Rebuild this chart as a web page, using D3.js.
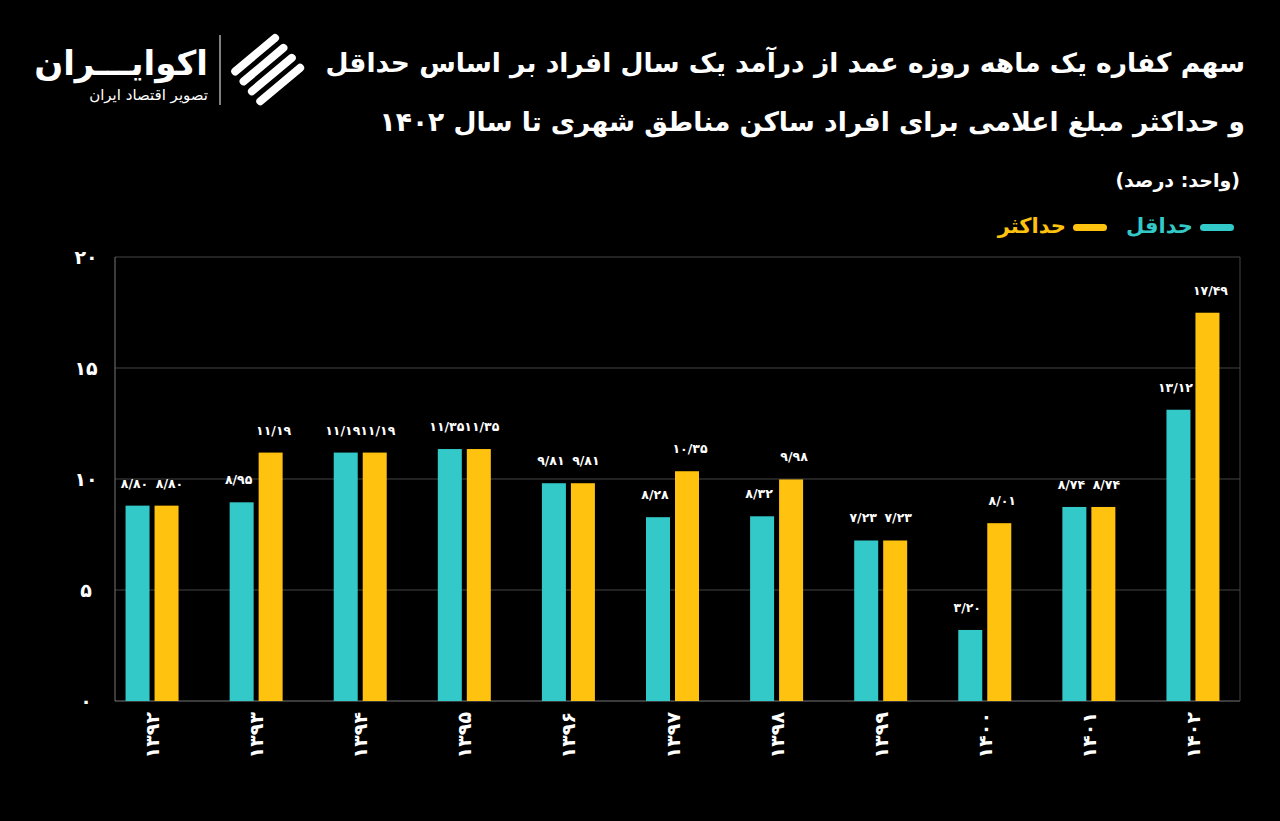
<!DOCTYPE html>
<html><head><meta charset="utf-8">
<script src="https://cdn.jsdelivr.net/npm/d3@7"></script>
<style>body{margin:0;background:#000;}svg{display:block;font-family:"DejaVu Sans","Noto Sans",sans-serif;}</style>
</head><body>
<svg id="c" width="1280" height="821"></svg>
<script>
const categories=["۱۳۹۲","۱۳۹۳","۱۳۹۴","۱۳۹۵","۱۳۹۶","۱۳۹۷","۱۳۹۸","۱۳۹۹","۱۴۰۰","۱۴۰۱","۱۴۰۲"];
const minValues=[8.80,8.95,11.19,11.35,9.81,8.28,8.32,7.23,3.20,8.74,13.12];
const maxValues=[8.80,11.19,11.19,11.35,9.81,10.35,9.98,7.23,8.01,8.74,17.49];
const yTicks=[0,5,10,15,20];
const seriesNames=["حداقل","حداکثر"];
const colors=["#33c9c9","#ffc20e"];

const fa=s=>String(s).replace(/\d/g,d=>"۰۱۲۳۴۵۶۷۸۹"[d]);
const fmt=v=>fa(v.toFixed(2).replace(".","/"));
const svg=d3.select("#c");
const x=d3.scaleBand().domain(categories).range([100,1245]);
const y=d3.scaleLinear().domain([0,20]).range([701,257]);
const L=115,R=1240;
svg.selectAll(".g").data(yTicks).join("line").attr("x1",L).attr("x2",R)
 .attr("y1",d=>y(d)).attr("y2",d=>y(d)).attr("stroke",d=>d===0?"#777":"#444").attr("stroke-width",1);
svg.append("line").attr("x1",L).attr("x2",L).attr("y1",y(20)).attr("y2",y(0)).attr("stroke","#777");
svg.append("line").attr("x1",R).attr("x2",R).attr("y1",y(20)).attr("y2",y(0)).attr("stroke","#444");
svg.selectAll(".yt").data(yTicks).join("text").attr("x",86).attr("y",d=>y(d)+7).attr("text-anchor","middle")
 .attr("fill","#fff").attr("font-size",19).attr("font-weight","bold").text(d=>fa(d));
const bw=24;
[minValues,maxValues].forEach((vals,i)=>{
 const off=i===0?-bw-2.5:2.5;
 const g=svg.append("g");
 g.selectAll("rect").data(vals).join("rect")
  .attr("x",(d,j)=>x(categories[j])+x.bandwidth()/2+off).attr("width",bw)
  .attr("y",d=>y(d)).attr("height",d=>y(0)-y(d)).attr("fill",colors[i]);
 g.selectAll("text").data(vals).join("text")
  .attr("x",(d,j)=>x(categories[j])+x.bandwidth()/2+off+bw/2+(i===0?-3:3)).attr("y",d=>y(d)-18)
  .attr("text-anchor","middle").attr("fill","#fff").attr("font-size",12.5).attr("font-weight","bold")
  .text(d=>fmt(d));
});
svg.selectAll(".xl").data(categories).join("text")
 .attr("transform",d=>`translate(${x(d)+x.bandwidth()/2+7},712) rotate(-90)`)
 .attr("text-anchor","end").attr("fill","#fff").attr("font-size",19).attr("font-weight","bold").text(d=>d);
const t=svg.append("g").attr("fill","#fff").attr("font-weight","bold").attr("direction","rtl");
t.append("text").attr("x",1245).attr("y",72).attr("text-anchor","start").attr("font-size",26.5).text("سهم کفاره یک ماهه روزه عمد از درآمد یک سال افراد بر اساس حداقل");
t.append("text").attr("x",1245).attr("y",131).attr("text-anchor","start").attr("font-size",26.5).text("و حداکثر مبلغ اعلامی برای افراد ساکن مناطق شهری تا سال ۱۴۰۲");
t.append("text").attr("x",1240).attr("y",187).attr("text-anchor","start").attr("font-size",19).text("(واحد: درصد)");
svg.append("rect").attr("x",1200).attr("y",224).attr("width",34).attr("height",7).attr("rx",3.5).attr("fill",colors[0]);
svg.append("text").attr("x",1193).attr("y",233).attr("text-anchor","end").attr("fill",colors[0]).attr("font-size",21).attr("font-weight","bold").text(seriesNames[0]);
svg.append("rect").attr("x",1073).attr("y",224).attr("width",34).attr("height",7).attr("rx",3.5).attr("fill",colors[1]);
svg.append("text").attr("x",1066).attr("y",233).attr("text-anchor","end").attr("fill",colors[1]).attr("font-size",21).attr("font-weight","bold").text(seriesNames[1]);
svg.append("text").attr("x",208).attr("y",75).attr("text-anchor","end").attr("fill","#fff").attr("font-size",34).attr("font-weight","bold").text("اکوایـــران");
svg.append("text").attr("x",208).attr("y",100).attr("text-anchor","end").attr("fill","#fff").attr("font-size",15).text("تصویر اقتصاد ایران");
svg.append("line").attr("x1",220).attr("x2",220).attr("y1",35).attr("y2",105).attr("stroke","#fff");
const lg=svg.append("g").attr("transform","translate(268,70) rotate(-40)");
[-20,-7,6,19].forEach(dy=>lg.append("rect").attr("x",-30).attr("y",dy-4).attr("width",60).attr("height",8).attr("rx",4).attr("fill","#fff"));
</script></body></html>
